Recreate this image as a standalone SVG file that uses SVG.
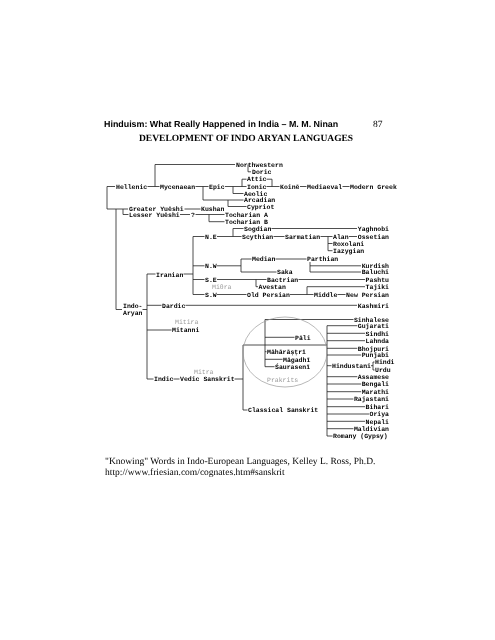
<svg xmlns="http://www.w3.org/2000/svg" width="495" height="640" viewBox="0 0 495 640" style="will-change:transform">
<style>
text{text-rendering:geometricPrecision}
.t{font-family:"Liberation Mono","DejaVu Sans Mono",monospace;font-size:6.5px;font-weight:bold;fill:#000}
.g{font-family:"Liberation Mono","DejaVu Sans Mono",monospace;font-size:6.5px;fill:#999}
.e{text-anchor:end}
.c{fill:none;stroke:#222;stroke-width:0.8}
.h1{font-family:"Liberation Sans",Arial,sans-serif;font-size:8.9px;font-weight:bold;fill:#000}
.h2{font-family:"Liberation Serif","Times New Roman",serif;font-size:9.5px;font-weight:bold;fill:#000}
.s{font-family:"Liberation Serif","Times New Roman",serif;font-size:9.5px;fill:#000}
</style>
<rect width="495" height="640" fill="#fff"/>
<g id="header">
<text class="h1" x="104" y="127">Hinduism: What Really Happened in India – M. M. Ninan</text>
<text class="s" x="373" y="127">87</text>
<text class="h2" x="139" y="141">DEVELOPMENT OF INDO ARYAN LANGUAGES</text>
</g>
<g id="connectors" class="c">
<path d="M107 186.5V209M107 186.5H115M107 209H128M147.5 186.5H159.5M155 164.5V186.5M155 164.5H235M248 164.5V171.8H251M195.5 186.5H208.5M225 186.5H246.5M203 186.5V200H243.5M228 200V206.5H246.5M233 186.5V193.5H243.5M242 186.5V179.2H246.5M266.5 179.2H272V186.5M266.5 186.5H279.5M300 186.5H306.5M342.5 186.5H349.5"/>
<path d="M184.5 209H200.5M116 209V309.5H122M123 209V214.5H128.5M180 214.5H190M195.5 214.5H224.5M209 214.5V221.7H224.5M142.5 309.5H147"/>
<path d="M147 274V379M147 274H155.5M183.5 274H193M193 236.5V294.5M193 236.5H204.5M193 265.8H204.5M193 279.5H204.5M193 294.5H204.5"/>
<path d="M217 236.5H241.5M233 236.5V228.5H243.5M271.5 228.5H357M273.5 236.5H284.5M320.5 236.5H332.5M328 236.5V250.7M328 243.5H332.5M328 250.7H332.5M349 236.5H357"/>
<path d="M217 265.8H241M241 259V272M241 259H251.5M275.5 259H306.5M241 272H276.5M310 262V272M310 265.8H361M310 272H361"/>
<path d="M217 279.5H266.5M298.5 279.5H365M256 279.5V286.7H258M217 294.5H246.5M290 294.5H313.5M307 294.5V286.7H365M337.5 294.5H345.5"/>
<path d="M147 305.3H161.5M185.5 305.3H357M147 330H171.5M147 379H153.5M173.5 379H179.5M234.6 379H243M243 345V410H247.5M243 345H327"/>
<path d="M265 319.5V366.7M265 319.5H353.5M265 337.3H294.5M265 351.7H266.5M265 359.3H282.5M265 366.7H274.5"/>
<path d="M327 325.7V436M327 325.7H357.3M327 333.3H365M327 340.7H365M327 348.3H357.3M327 355H361.2M327 365.7H331.5M371 365.7H373M373 362V370M373 362H374.5M373 370H374.5M327 376.7H357.3M327 384H361.2M327 391.7H361.2M327 399H353.4M327 406.7H365M327 414H369M327 421.3H365M327 428.7H353.4M327 436H332.5"/>
<ellipse cx="285" cy="352" rx="42" ry="35" fill="none" stroke="#999" stroke-width="0.7"/>
</g>
<g id="greek">
<text class="t" x="236" y="166.7">Northwestern</text>
<text class="t" x="252" y="174">Doric</text>
<text class="t" x="247" y="181.4">Attic</text>
<text class="t" x="116" y="188.7">Hellenic</text>
<text class="t" x="160" y="188.7">Mycenaean</text>
<text class="t" x="209" y="188.7">Epic</text>
<text class="t" x="247" y="188.7">Ionic</text>
<text class="t" x="280" y="188.7">Koinē</text>
<text class="t" x="307" y="188.7">Mediaeval</text>
<text class="t" x="350" y="188.7">Modern Greek</text>
<text class="t" x="244" y="195.7">Aeolic</text>
<text class="t" x="244" y="202.2">Arcadian</text>
<text class="t" x="247" y="208.7">Cypriot</text>
</g>
<g id="tocharian">
<text class="t" x="129" y="211.2">Greater Yuēshi</text>
<text class="t" x="201" y="211.2">Kushan</text>
<text class="t" x="129" y="216.7">Lesser Yuēshi</text>
<text class="t" x="191" y="216.7">?</text>
<text class="t" x="225" y="216.7">Tocharian A</text>
<text class="t" x="225" y="223.9">Tocharian B</text>
</g>
<g id="iranian">
<text class="t" x="156" y="276.5">Iranian</text>
<text class="t" x="205" y="238.7">N.E</text>
<text class="t" x="244" y="230.7">Sogdian</text>
<text class="t e" x="389" y="230.7">Yaghnobi</text>
<text class="t" x="242" y="238.7">Scythian</text>
<text class="t" x="285" y="238.7">Sarmatian</text>
<text class="t" x="333" y="238.7">Alan</text>
<text class="t e" x="389" y="238.7">Ossetian</text>
<text class="t" x="333" y="245.7">Roxolani</text>
<text class="t" x="333" y="252.9">Iazygian</text>
<text class="t" x="205" y="268">N.W</text>
<text class="t" x="252" y="261.2">Median</text>
<text class="t" x="307" y="261.2">Parthian</text>
<text class="t" x="277" y="274.2">Saka</text>
<text class="t e" x="389" y="268">Kurdish</text>
<text class="t e" x="389" y="274.2">Baluchi</text>
<text class="t" x="205" y="281.7">S.E</text>
<text class="t" x="267" y="281.7">Bactrian</text>
<text class="t e" x="389" y="281.7">Pashtu</text>
<text class="g" x="212" y="288.9">Miθra</text>
<text class="t" x="258.5" y="288.9">Avestan</text>
<text class="t e" x="389" y="288.9">Tajiki</text>
<text class="t" x="205" y="296.7">S.W</text>
<text class="t" x="247" y="296.7">Old Persian</text>
<text class="t" x="314" y="296.7">Middle</text>
<text class="t e" x="389" y="296.7">New Persian</text>
</g>
<g id="indo-aryan">
<text class="t" x="123" y="307.5">Indo-</text>
<text class="t" x="123" y="315.2">Aryan</text>
<text class="t" x="162" y="307.5">Dardic</text>
<text class="t e" x="389" y="307.5">Kashmiri</text>
<text class="g" x="175" y="323.9">Mitira</text>
<text class="t" x="172" y="332.2">Mitanni</text>
<text class="g" x="194" y="373.9">Mitra</text>
<text class="t" x="154" y="381.2">Indic</text>
<text class="t" x="180" y="381.2">Vedic Sanskrit</text>
<text class="t" x="248" y="412.2">Classical Sanskrit</text>
</g>
<g id="prakrits">
<text class="t" x="295" y="339.5">Pāli</text>
<text class="t" x="267" y="353.9">Māhārāṣṭrī</text>
<text class="t" x="283" y="361.5">Māgadhī</text>
<text class="t" x="275" y="368.9">Śaurasenī</text>
<text class="g" x="267" y="381.5">Prakrits</text>
</g>
<g id="modern">
<text class="t e" x="389" y="321.7">Sinhalese</text>
<text class="t e" x="389" y="327.9">Gujarati</text>
<text class="t e" x="389" y="335.5">Sindhi</text>
<text class="t e" x="389" y="342.9">Lahnda</text>
<text class="t e" x="389" y="350.5">Bhojpuri</text>
<text class="t e" x="389" y="357.2">Punjabi</text>
<text class="t" x="375" y="364.2">Hindi</text>
<text class="t" x="332" y="367.9">Hindustani</text>
<text class="t" x="375" y="372.2">Urdu</text>
<text class="t e" x="389" y="378.9">Assamese</text>
<text class="t e" x="389" y="386.2">Bengali</text>
<text class="t e" x="389" y="393.9">Marathi</text>
<text class="t e" x="389" y="401.2">Rajastani</text>
<text class="t e" x="389" y="408.9">Bihari</text>
<text class="t e" x="389" y="416.2">Oriya</text>
<text class="t e" x="389" y="423.5">Nepali</text>
<text class="t e" x="389" y="430.9">Maldivian</text>
<text class="t" x="333" y="438.2">Romany (Gypsy)</text>
</g>
<g id="citation">
<text class="s" x="105" y="464">"Knowing" Words in Indo-European Languages, Kelley L. Ross, Ph.D.</text>
<text class="s" x="105" y="475">http://www.friesian.com/cognates.htm#sanskrit</text>
</g>
</svg>
